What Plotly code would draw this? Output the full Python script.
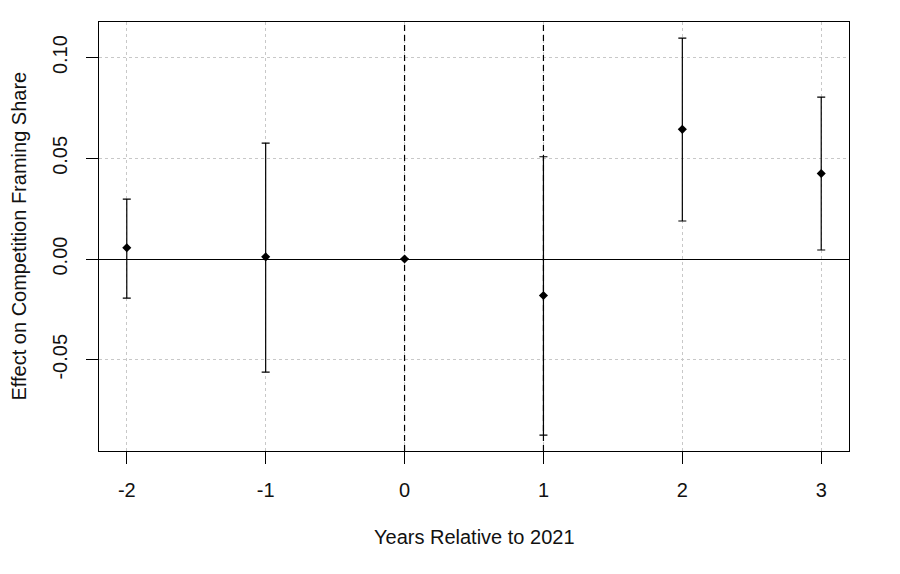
import plotly.graph_objects as go

# Event-study estimates
years = [-2, -1, 0, 1, 2, 3]
estimate = [0.0056, 0.0011, 0.0, -0.0181, 0.0644, 0.0425]
ci_upper = [0.0298, 0.0576, 0.0, 0.0508, 0.1097, 0.0804]
ci_lower = [-0.0194, -0.0561, 0.0, -0.0874, 0.0189, 0.0045]

y_ticks = [-0.05, 0.0, 0.05, 0.10]
y_ticktext = ["-0.05", "0.00", "0.05", "0.10"]

# Reference lines
event_lines = [0, 1]

err_plus = [u - e for u, e in zip(ci_upper, estimate)]
err_minus = [e - l for e, l in zip(estimate, ci_lower)]

fig = go.Figure()
fig.add_trace(go.Scatter(
    x=years,
    y=estimate,
    mode="markers",
    marker=dict(symbol="diamond", size=7, color="black"),
    error_y=dict(type="data", symmetric=False, array=err_plus, arrayminus=err_minus,
                 color="black", thickness=1.2, width=4),
    showlegend=False,
))

for x0 in event_lines:
    fig.add_vline(x=x0, line=dict(color="black", width=1.2, dash="6px,4px"))

axis_font = dict(family="Liberation Sans, Arial, sans-serif", size=20, color="#111111")

# page body adds ~8px offset, margins compensate for it
fig.update_layout(
    width=900,
    height=574,
    plot_bgcolor="white",
    paper_bgcolor="white",
    margin=dict(l=90.5, r=58.7, t=14.3, b=130.7),
    font=axis_font,
    annotations=[
        dict(text="Years Relative to 2021", xref="paper", yref="paper", x=0.5, y=0,
             xanchor="center", yanchor="middle", yshift=-86, showarrow=False, font=axis_font),
        dict(text="Effect on Competition Framing Share", xref="paper", yref="paper", x=0, y=0.5,
             xanchor="center", yanchor="middle", xshift=-81, textangle=-90,
             showarrow=False, font=axis_font),
    ],
)
fig.update_xaxes(
    range=[-2.2, 3.2],
    tickvals=years,
    ticktext=[str(y) for y in years],
    tickfont=axis_font,
    ticks="outside",
    ticklen=12,
    tickcolor="black",
    ticklabelstandoff=9,
    automargin=False,
    showline=True,
    linecolor="black",
    linewidth=1,
    mirror=True,
    showgrid=True,
    gridcolor="#c8c8c8",
    griddash="dot",
    zeroline=False,
)
fig.update_yaxes(
    range=[-0.0953, 0.1177],
    tickvals=y_ticks,
    ticktext=y_ticktext,
    tickfont=axis_font,
    tickangle=-90,
    ticks="outside",
    ticklen=12,
    tickcolor="black",
    ticklabelstandoff=11,
    automargin=False,
    showline=True,
    linecolor="black",
    linewidth=1,
    mirror=True,
    showgrid=True,
    gridcolor="#c8c8c8",
    griddash="dot",
    zeroline=True,
    zerolinecolor="black",
    zerolinewidth=1,
)

fig.write_html("out.html")
